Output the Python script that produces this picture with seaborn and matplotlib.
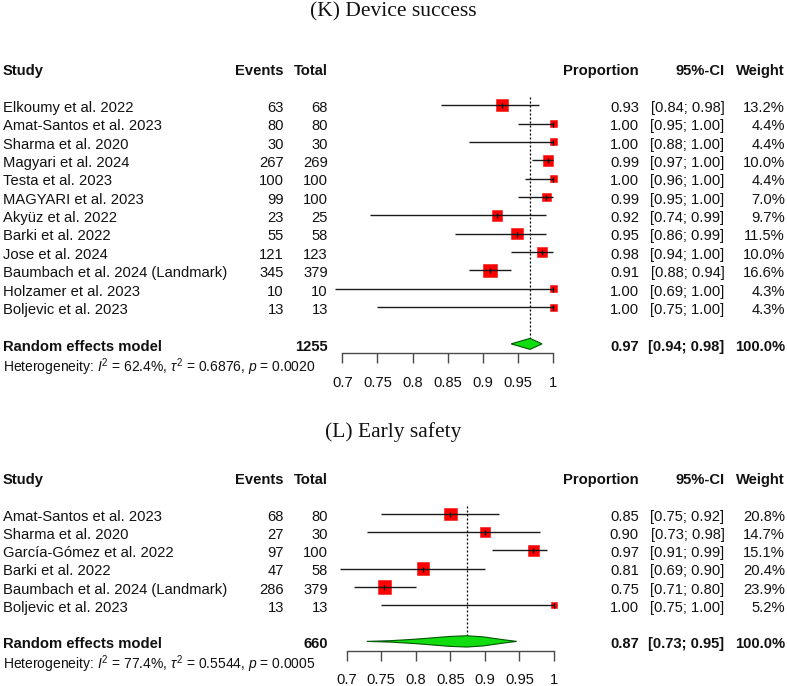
import numpy as np
import pandas as pd
import matplotlib
matplotlib.use("Agg")
import matplotlib.pyplot as plt
import seaborn as sns
from matplotlib.transforms import blended_transform_factory
from matplotlib.patches import Polygon

# ---------------- data: (K) Device success ----------------
K_studies = ["Elkoumy et al. 2022", "Amat-Santos et al. 2023", "Sharma et al. 2020",
             "Magyari et al. 2024", "Testa et al. 2023", "MAGYARI et al. 2023",
             "Akyüz et al. 2022", "Barki et al. 2022", "Jose et al. 2024",
             "Baumbach et al. 2024 (Landmark)", "Holzamer et al. 2023", "Boljevic et al. 2023"]
K_events = [63, 80, 30, 267, 100, 99, 23, 55, 121, 345, 10, 13]
K_total = [68, 80, 30, 269, 100, 100, 25, 58, 123, 379, 10, 13]
K_lower = [0.84, 0.95, 0.88, 0.97, 0.96, 0.95, 0.74, 0.86, 0.94, 0.88, 0.69, 0.75]
K_upper = [0.98, 1.00, 1.00, 1.00, 1.00, 1.00, 0.99, 0.99, 1.00, 0.94, 1.00, 1.00]
K_weight = [13.2, 4.4, 4.4, 10.0, 4.4, 7.0, 9.7, 11.5, 10.0, 16.6, 4.3, 4.3]
K_pooled = [0.967, 0.94, 0.984]   # estimate, lower, upper
K_het = ["62.4%", "0.6876", "0.0020"]

# ---------------- data: (L) Early safety ----------------
L_studies = ["Amat-Santos et al. 2023", "Sharma et al. 2020", "García-Gómez et al. 2022",
             "Barki et al. 2022", "Baumbach et al. 2024 (Landmark)", "Boljevic et al. 2023"]
L_events = [68, 27, 97, 47, 286, 13]
L_total = [80, 30, 100, 58, 379, 13]
L_lower = [0.75, 0.73, 0.91, 0.69, 0.71, 0.75]
L_upper = [0.92, 0.98, 0.99, 0.90, 0.80, 1.00]
L_weight = [20.8, 14.7, 15.1, 20.4, 23.9, 5.2]
L_pooled = [0.874, 0.729, 0.946]
L_het = ["77.4%", "0.5544", "0.0005"]

tick_values = [0.7, 0.75, 0.8, 0.85, 0.9, 0.95, 1.0]
tick_labels = ["0.7", "0.75", "0.8", "0.85", "0.9", "0.95", "1"]

# ---------------- style ----------------
sns.set_style("white")
plt.rcParams["font.family"] = ["Liberation Sans", "DejaVu Sans"]
plt.rcParams["mathtext.fontset"] = "custom"
plt.rcParams["mathtext.rm"] = "Liberation Sans"
plt.rcParams["mathtext.it"] = "Liberation Sans:italic"
plt.rcParams["mathtext.bf"] = "Liberation Sans:bold"

W, H, DPI = 787, 686, 100
fig = plt.figure(figsize=(W / DPI, H / DPI), dpi=DPI)
TXT = "#111111"
FS = 10.6
TXT_OFF = 0.15   # text sits slightly below the mark centre

COLS = {"study": 3, "events": 284, "total": 328, "prop": 639, "ci": 724.5, "weight": 785}


def panel(title, title_px, studies, events, total, lower, upper, weight, pooled, het,
          row0_px, step_px, x07_px, x1_px, top_px, bot_px, diamond_profile):
    n = len(studies)
    left_px, right_px = 300, 590
    scale = (x1_px - x07_px) / 0.3
    ax = fig.add_axes([left_px / W, 1 - bot_px / H, (right_px - left_px) / W, (bot_px - top_px) / H])
    ax.patch.set_visible(False)

    df = pd.DataFrame({
        "row": np.arange(n),
        "prop": np.array(events) / np.array(total),
        "lo": lower, "hi": upper, "w": weight,
    })
    smax = (13.5 * 72 / DPI) ** 2
    sns.scatterplot(data=df, x="prop", y="row", size="w", sizes=(0, smax),
                    size_norm=(0, max(weight)), marker="s", color="#ff0000",
                    edgecolor="#ee1111", linewidth=0.4, legend=False, ax=ax, zorder=2)
    ax.hlines(df["row"], df["lo"], df["hi"], color="#1a1a1a", lw=1.0, zorder=3)
    ax.scatter(df["prop"], df["row"], marker="|", s=(3.6) ** 2, color="black", lw=0.9, zorder=4)

    est, plo, phi = pooled
    srow = n + 1
    ax.vlines(est, -0.45, srow, colors="black", linestyles=(0, (1.6, 1.6)), lw=0.9, zorder=1)

    left_prof, right_prof, hh = diamond_profile
    top_pts = [(plo + t * (est - plo), srow - h * hh) for t, h in left_prof]
    top_pts += [(est + t * (phi - est), srow - h * hh) for t, h in right_prof]
    bot_pts = [(x, 2 * srow - y) for x, y in top_pts[::-1]]
    ax.add_patch(Polygon(top_pts + bot_pts, closed=True, facecolor="#11dd11",
                         edgecolor="#005500", lw=0.8, zorder=5))

    ax.set_xlim(0.7 + (left_px - x07_px) / scale, 0.7 + (right_px - x07_px) / scale)
    ax.set_ylim((bot_px - row0_px) / step_px, (top_px - row0_px) / step_px)
    ax.set_xlabel("")
    ax.set_ylabel("")
    for s in ["top", "left", "right"]:
        ax.spines[s].set_visible(False)
    ax.spines["bottom"].set_position(("data", n + 1.5))
    ax.spines["bottom"].set_bounds(0.7, 1.0)
    ax.spines["bottom"].set_color("#4a4a4a")
    ax.spines["bottom"].set_linewidth(1.0)
    ax.set_yticks([])
    ax.set_xticks(tick_values)
    ax.set_xticklabels(tick_labels)
    ax.tick_params(axis="x", direction="out", length=7.2, width=1.0, color="#4a4a4a",
                   labelsize=FS, labelcolor=TXT, pad=9, bottom=True)

    tr = blended_transform_factory(fig.transFigure, ax.transData)

    def put(xpx, r, s, ha, bold=False, size=FS):
        ax.text(xpx / W, r + TXT_OFF, s, ha=ha, va="center", transform=tr, fontsize=size,
                color=TXT, fontweight="bold" if bold else "normal", clip_on=False)

    hdr = -2
    put(COLS["study"], hdr, "Study", "left", True)
    put(COLS["events"], hdr, "Events", "right", True)
    put(COLS["total"], hdr, "Total", "right", True)
    put(COLS["prop"], hdr, "Proportion", "right", True)
    put(COLS["ci"], hdr, "95%-CI", "right", True)
    put(COLS["weight"], hdr, "Weight", "right", True)

    for i in range(n):
        put(COLS["study"], i, studies[i], "left")
        put(COLS["events"], i, f"{events[i]}", "right")
        put(COLS["total"], i, f"{total[i]}", "right")
        put(COLS["prop"], i, f"{df['prop'][i]:.2f}", "right")
        put(COLS["ci"], i, f"[{lower[i]:.2f}; {upper[i]:.2f}]", "right")
        put(COLS["weight"], i, f"{weight[i]:.1f}%", "right")

    put(COLS["study"], srow, "Random effects model", "left", True)
    put(COLS["total"], srow, f"{sum(total)}", "right", True)
    put(COLS["prop"], srow, f"{est:.2f}", "right", True)
    put(COLS["ci"], srow, f"[{plo:.2f}; {phi:.2f}]", "right", True)
    put(COLS["weight"], srow, "100.0%", "right", True)

    i2, tau2, p = het
    het_txt = (r"Heterogeneity: $\mathit{I}^2$ = " + i2 + r", $\tau^2$ = "
               + tau2 + r", $\mathit{p}$ = " + p)
    put(COLS["study"], srow + 1.1, het_txt, "left", False, 10.0)

    fig.text(0.5, 1 - title_px / H, title, ha="center", va="center",
             family=["Liberation Serif", "DejaVu Serif"], fontsize=15.5, color=TXT)


std_diamond = ([(0, 0), (1, 1)], [(1, 0)], 0.3)
panel("(K) Device success", 12, K_studies, K_events, K_total, K_lower, K_upper, K_weight,
      K_pooled, K_het, row0_px=105.2, step_px=18.36, x07_px=342.3, x1_px=553.3,
      top_px=55, bot_px=400, diamond_profile=std_diamond)

odd_diamond = ([(0, 0), (0.23, 0.12), (0.45, 0.35), (0.6, 0.55), (0.83, 0.88), (1, 1)],
               [(0.33, 0.8), (0.73, 0.3), (1, 0)], 0.31)
panel("(L) Early safety", 432.5, L_studies, L_events, L_total, L_lower, L_upper, L_weight,
      L_pooled, L_het, row0_px=514, step_px=18.2, x07_px=346.7, x1_px=554,
      top_px=455, bot_px=686, diamond_profile=odd_diamond)

fig.savefig("out.png", dpi=DPI)
